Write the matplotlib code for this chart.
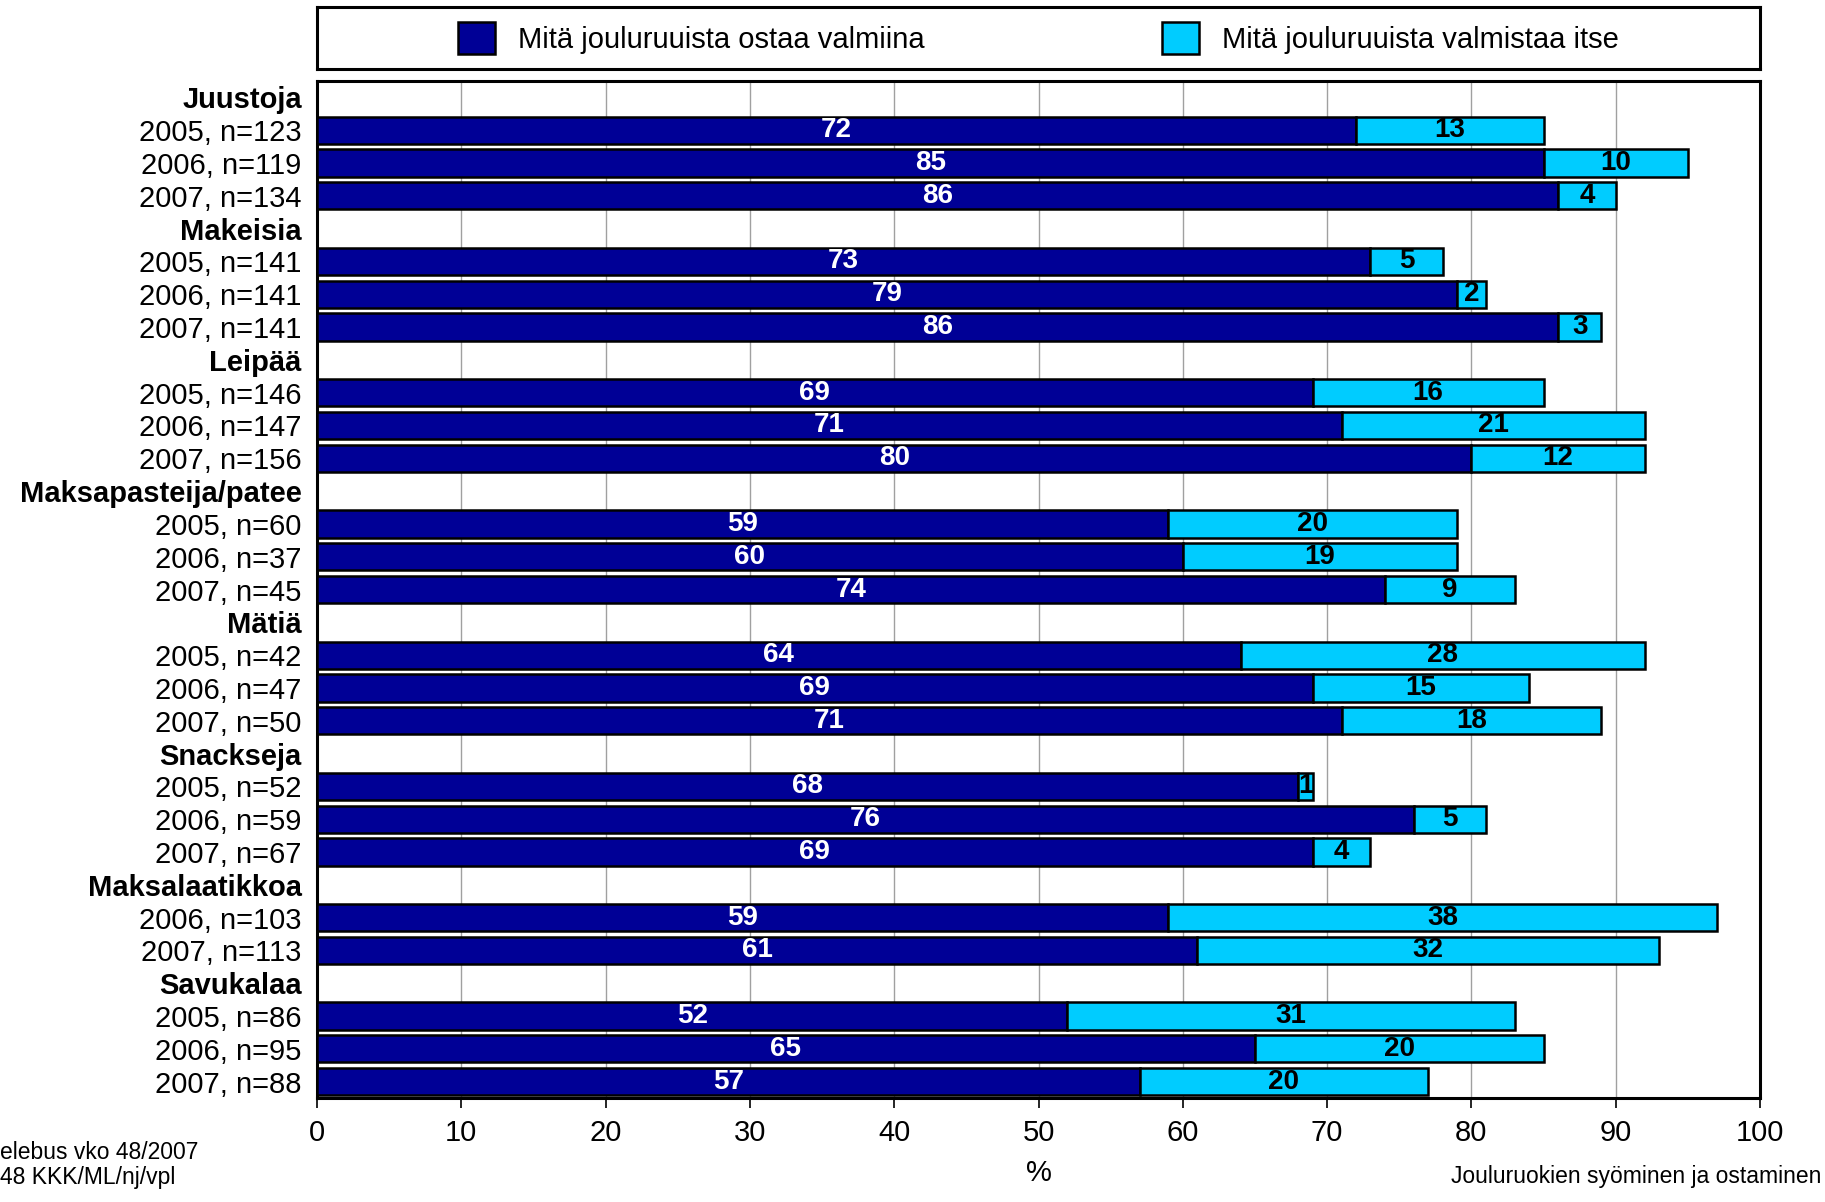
import matplotlib
matplotlib.use("Agg")
import matplotlib.pyplot as plt
from matplotlib.patches import Patch

plt.rcParams['font.family'] = ['Liberation Sans', 'DejaVu Sans']

categories = ["Juustoja", "Makeisia", "Leipää", "Maksapasteija/patee",
              "Mätiä", "Snackseja", "Maksalaatikkoa", "Savukalaa"]
year_labels = [
    ["2005, n=123", "2006, n=119", "2007, n=134"],
    ["2005, n=141", "2006, n=141", "2007, n=141"],
    ["2005, n=146", "2006, n=147", "2007, n=156"],
    ["2005, n=60", "2006, n=37", "2007, n=45"],
    ["2005, n=42", "2006, n=47", "2007, n=50"],
    ["2005, n=52", "2006, n=59", "2007, n=67"],
    ["2006, n=103", "2007, n=113"],
    ["2005, n=86", "2006, n=95", "2007, n=88"],
]
buy_ready = [
    [72, 85, 86],
    [73, 79, 86],
    [69, 71, 80],
    [59, 60, 74],
    [64, 69, 71],
    [68, 76, 69],
    [59, 61],
    [52, 65, 57],
]
make_self = [
    [13, 10, 4],
    [5, 2, 3],
    [16, 21, 12],
    [20, 19, 9],
    [28, 15, 18],
    [1, 5, 4],
    [38, 32],
    [31, 20, 20],
]
series_names = ["Mitä jouluruuista ostaa valmiina", "Mitä jouluruuista valmistaa itse"]
x_ticks = list(range(0, 101, 10))

c_dark = "#000096"
c_light = "#00CCFF"

# build rows
row_labels, row_bold, vals_a, vals_b = [], [], [], []
for cat, yl, a, b in zip(categories, year_labels, buy_ready, make_self):
    row_labels.append(cat); row_bold.append(True); vals_a.append(None); vals_b.append(None)
    for l, va, vb in zip(yl, a, b):
        row_labels.append(l); row_bold.append(False); vals_a.append(va); vals_b.append(vb)

n = len(row_labels)
ypos = list(range(n))

fig = plt.figure(figsize=(18.25, 12.02), dpi=100)
ax = fig.add_axes([0.1737, 0.0865, 0.7907, 0.8461])

for y, a, b in zip(ypos, vals_a, vals_b):
    if a is None:
        continue
    ax.barh(y, a, height=0.83, color=c_dark, edgecolor="black", linewidth=1.8, zorder=3)
    ax.barh(y, b, left=a, height=0.83, color=c_light, edgecolor="black", linewidth=1.8, zorder=3)
    ax.text(a / 2, y, str(a), ha="center", va="center", color="white",
            fontsize=20, fontweight="bold", zorder=4)
    ax.text(a + b / 2, y, str(b), ha="center", va="center", color="black",
            fontsize=20, fontweight="bold", zorder=4)

ax.set_ylim(n - 0.5, -0.5)
ax.set_xlim(0, 100)
ax.set_yticks(ypos)
ax.set_yticklabels(row_labels, fontsize=21)
for t, b in zip(ax.get_yticklabels(), row_bold):
    if b:
        t.set_fontweight("bold")
ax.tick_params(axis="y", length=0, pad=11)
ax.set_xticks(x_ticks)
ax.tick_params(axis="x", labelsize=21, length=7, width=1.2, pad=8)
ax.grid(axis="x", color="#a0a0a0", linewidth=1, zorder=0)
for s in ax.spines.values():
    s.set_linewidth(2.2)
    s.set_color("black")
ax.set_xlabel("%", fontsize=21, labelpad=9)

# legend box
lax = fig.add_axes([0.1737, 0.9426, 0.7907, 0.0516])
lax.set_xticks([]); lax.set_yticks([])
for s in lax.spines.values():
    s.set_linewidth(2.2)
handles = [Patch(facecolor=c_dark, edgecolor="black", linewidth=1.8, label=series_names[0]),
           Patch(facecolor=c_light, edgecolor="black", linewidth=1.8, label=series_names[1])]
lax.legend(handles=handles, loc="center", ncol=2, frameon=False, fontsize=21,
           handlelength=1.27, handleheight=1.34, columnspacing=8.15, handletextpad=0.79,
           borderaxespad=0, borderpad=0)

fig.text(0.0, 0.0408, "elebus vko 48/2007", fontsize=16.5, ha="left", va="center")
fig.text(0.0, 0.0200, "48 KKK/ML/nj/vpl", fontsize=16.5, ha="left", va="center")
fig.text(0.998, 0.0208, "Jouluruokien syöminen ja ostaminen", fontsize=16.5, ha="right", va="center")

fig.savefig("out.png", dpi=100)
